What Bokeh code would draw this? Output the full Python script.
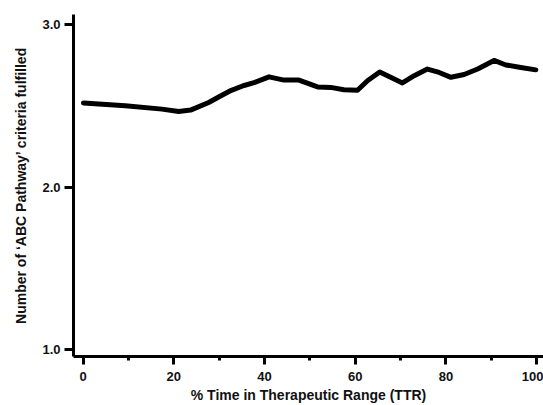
from bokeh.plotting import figure
from bokeh.models import FixedTicker, Range1d, CustomJSTickFormatter
from bokeh.embed import file_html
from bokeh.resources import INLINE

ttr = [0.1, 9.3, 17.4, 21.1, 23.7, 27.7, 30.2, 32.7, 35.3, 37.7, 41.0, 44.3, 47.6,
       51.7, 54.6, 57.5, 60.5, 62.7, 65.4, 67.8, 70.4, 73.0, 75.9, 78.5, 81.1,
       84.0, 87.0, 90.6, 93.2, 96.5, 99.8]
abc = [2.519, 2.502, 2.481, 2.467, 2.475, 2.522, 2.560, 2.597, 2.625, 2.644, 2.680,
       2.660, 2.660, 2.618, 2.615, 2.600, 2.597, 2.656, 2.710, 2.677, 2.642, 2.687,
       2.728, 2.707, 2.677, 2.694, 2.728, 2.781, 2.753, 2.738, 2.723]

x_major = [0, 20, 40, 60, 80, 100]
x_minor = [10, 30, 50, 70, 90]
y_major = [1.0, 2.0, 3.0]
x_title = "% Time in Therapeutic Range (TTR)"
y_title = "Number of \u2018ABC Pathway\u2019 criteria fulfilled"

p = figure(width=543, height=405, output_backend="svg", toolbar_location=None,
           x_range=Range1d(-2.1, 101.5), y_range=Range1d(0.957, 3.064),
           min_border_left=73, min_border_right=0, min_border_top=14, min_border_bottom=46)

p.line(ttr, abc, line_width=5, line_color="black", line_join="round", line_cap="round")

p.grid.visible = False
p.outline_line_color = None
p.background_fill_color = "white"
p.border_fill_color = "white"

p.xaxis.ticker = FixedTicker(ticks=x_major, minor_ticks=x_minor)
p.yaxis.ticker = FixedTicker(ticks=y_major, minor_ticks=[])
p.yaxis.formatter = CustomJSTickFormatter(code="return tick.toFixed(1);")

for ax in (p.xaxis[0], p.yaxis[0]):
    ax.axis_line_width = 3
    ax.axis_line_color = "black"
    ax.major_tick_line_width = 3
    ax.major_tick_line_color = "black"
    ax.minor_tick_line_width = 3
    ax.minor_tick_line_color = "black"
    ax.major_tick_in = 0
    ax.minor_tick_in = 0
    ax.major_label_text_font = "Liberation Sans"
    ax.major_label_text_font_style = "bold"
    ax.major_label_text_font_size = "13px"
    ax.major_label_text_color = "#111111"
    ax.axis_label_text_font = "Liberation Sans"
    ax.axis_label_text_font_style = "bold"
    ax.axis_label_text_font_size = "14px"
    ax.axis_label_text_color = "#111111"

p.xaxis.major_tick_out = 8
p.xaxis.minor_tick_out = 4
p.yaxis.major_tick_out = 9
p.yaxis.minor_tick_out = 0
p.xaxis.major_label_standoff = 7
p.yaxis.major_label_standoff = 4
p.xaxis.axis_label = x_title
p.xaxis.axis_label_standoff = 3
p.yaxis.axis_label = y_title
p.yaxis.axis_label_standoff = 10

open("out.html", "w").write(file_html(p, INLINE))
